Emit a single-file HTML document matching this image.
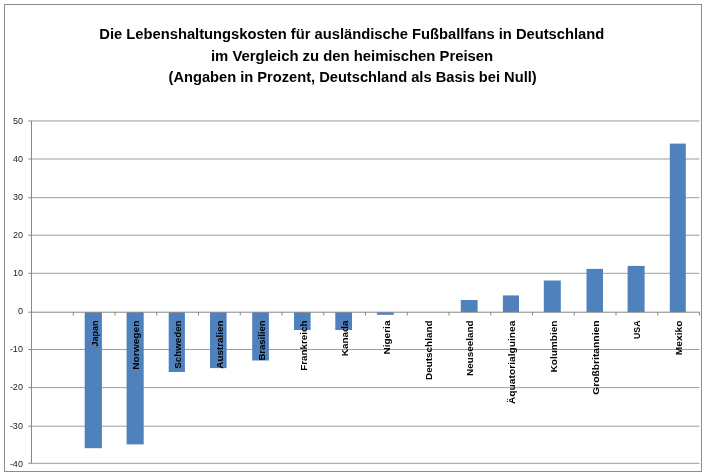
<!DOCTYPE html>
<html lang="de">
<head>
<meta charset="utf-8">
<title>Lebenshaltungskosten für ausländische Fußballfans in Deutschland</title>
<style>
html,body{margin:0;padding:0;background:#fff;}
body{width:706px;height:475px;overflow:hidden;}
svg{display:block;}
text{font-family:"Liberation Sans",sans-serif;}
.t{font-weight:bold;font-size:14px;fill:#000;text-anchor:middle;}
.n{font-size:9px;fill:#1a1a1a;text-anchor:end;}
.c{font-weight:bold;font-size:9.3px;fill:#000;text-anchor:end;}
</style>
</head>
<body>
<svg width="706" height="475" viewBox="0 0 706 475">
<rect x="0" y="0" width="706" height="475" fill="#fff"/>
<rect x="4.5" y="4.5" width="697" height="467" fill="none" stroke="#8c8c8c" stroke-width="1"/>
<text class="t" x="351.8" y="38.8" textLength="505.0" lengthAdjust="spacingAndGlyphs">Die Lebenshaltungskosten für ausländische Fußballfans in Deutschland</text>
<text class="t" x="352.1" y="60.6" textLength="282.2" lengthAdjust="spacingAndGlyphs">im Vergleich zu den heimischen Preisen</text>
<text class="t" x="352.6" y="82.4" textLength="368.2" lengthAdjust="spacingAndGlyphs">(Angaben in Prozent, Deutschland als Basis bei Null)</text>
<line x1="31.5" y1="120.95" x2="699.5" y2="120.95" stroke="#9e9e9e" stroke-width="1"/>
<line x1="31.5" y1="159.0" x2="699.5" y2="159.0" stroke="#9e9e9e" stroke-width="1"/>
<line x1="31.5" y1="197.7" x2="699.5" y2="197.7" stroke="#9e9e9e" stroke-width="1"/>
<line x1="31.5" y1="235.2" x2="699.5" y2="235.2" stroke="#9e9e9e" stroke-width="1"/>
<line x1="31.5" y1="273.3" x2="699.5" y2="273.3" stroke="#9e9e9e" stroke-width="1"/>
<line x1="31.5" y1="349.5" x2="699.5" y2="349.5" stroke="#9e9e9e" stroke-width="1"/>
<line x1="31.5" y1="387.6" x2="699.5" y2="387.6" stroke="#9e9e9e" stroke-width="1"/>
<line x1="31.5" y1="426.2" x2="699.5" y2="426.2" stroke="#9e9e9e" stroke-width="1"/>
<line x1="31.5" y1="463.3" x2="699.5" y2="463.3" stroke="#9e9e9e" stroke-width="1"/>
<rect x="84.70" y="312.20" width="17.20" height="136.00" fill="#4f81bd"/>
<rect x="126.60" y="312.20" width="17.10" height="132.20" fill="#4f81bd"/>
<rect x="168.70" y="312.20" width="16.20" height="59.80" fill="#4f81bd"/>
<rect x="210.00" y="312.20" width="16.60" height="55.90" fill="#4f81bd"/>
<rect x="252.20" y="312.20" width="16.70" height="48.30" fill="#4f81bd"/>
<rect x="294.00" y="312.20" width="16.60" height="17.80" fill="#4f81bd"/>
<rect x="335.30" y="312.20" width="16.70" height="17.80" fill="#4f81bd"/>
<rect x="376.90" y="312.20" width="16.90" height="2.60" fill="#4f81bd"/>
<rect x="460.80" y="300.00" width="16.80" height="12.20" fill="#4f81bd"/>
<rect x="502.90" y="295.40" width="16.10" height="16.80" fill="#4f81bd"/>
<rect x="543.80" y="280.50" width="17.00" height="31.70" fill="#4f81bd"/>
<rect x="586.50" y="268.90" width="16.50" height="43.30" fill="#4f81bd"/>
<rect x="627.60" y="265.90" width="17.00" height="46.30" fill="#4f81bd"/>
<rect x="669.80" y="143.60" width="16.00" height="168.60" fill="#4f81bd"/>
<line x1="31.5" y1="120.95" x2="31.5" y2="463.3" stroke="#868686" stroke-width="1"/>
<line x1="31.5" y1="312.2" x2="699.5" y2="312.2" stroke="#868686" stroke-width="1"/>
<line x1="28.3" y1="120.95" x2="31.5" y2="120.95" stroke="#868686" stroke-width="1"/>
<line x1="28.3" y1="159.0" x2="31.5" y2="159.0" stroke="#868686" stroke-width="1"/>
<line x1="28.3" y1="197.7" x2="31.5" y2="197.7" stroke="#868686" stroke-width="1"/>
<line x1="28.3" y1="235.2" x2="31.5" y2="235.2" stroke="#868686" stroke-width="1"/>
<line x1="28.3" y1="273.3" x2="31.5" y2="273.3" stroke="#868686" stroke-width="1"/>
<line x1="28.3" y1="312.2" x2="31.5" y2="312.2" stroke="#868686" stroke-width="1"/>
<line x1="28.3" y1="349.5" x2="31.5" y2="349.5" stroke="#868686" stroke-width="1"/>
<line x1="28.3" y1="387.6" x2="31.5" y2="387.6" stroke="#868686" stroke-width="1"/>
<line x1="28.3" y1="426.2" x2="31.5" y2="426.2" stroke="#868686" stroke-width="1"/>
<line x1="28.3" y1="463.3" x2="31.5" y2="463.3" stroke="#868686" stroke-width="1"/>
<line x1="73.25" y1="312.2" x2="73.25" y2="315.5" stroke="#868686" stroke-width="1"/>
<line x1="115.00" y1="312.2" x2="115.00" y2="315.5" stroke="#868686" stroke-width="1"/>
<line x1="156.75" y1="312.2" x2="156.75" y2="315.5" stroke="#868686" stroke-width="1"/>
<line x1="198.50" y1="312.2" x2="198.50" y2="315.5" stroke="#868686" stroke-width="1"/>
<line x1="240.25" y1="312.2" x2="240.25" y2="315.5" stroke="#868686" stroke-width="1"/>
<line x1="282.00" y1="312.2" x2="282.00" y2="315.5" stroke="#868686" stroke-width="1"/>
<line x1="323.75" y1="312.2" x2="323.75" y2="315.5" stroke="#868686" stroke-width="1"/>
<line x1="365.50" y1="312.2" x2="365.50" y2="315.5" stroke="#868686" stroke-width="1"/>
<line x1="407.25" y1="312.2" x2="407.25" y2="315.5" stroke="#868686" stroke-width="1"/>
<line x1="449.00" y1="312.2" x2="449.00" y2="315.5" stroke="#868686" stroke-width="1"/>
<line x1="490.75" y1="312.2" x2="490.75" y2="315.5" stroke="#868686" stroke-width="1"/>
<line x1="532.50" y1="312.2" x2="532.50" y2="315.5" stroke="#868686" stroke-width="1"/>
<line x1="574.25" y1="312.2" x2="574.25" y2="315.5" stroke="#868686" stroke-width="1"/>
<line x1="616.00" y1="312.2" x2="616.00" y2="315.5" stroke="#868686" stroke-width="1"/>
<line x1="657.75" y1="312.2" x2="657.75" y2="315.5" stroke="#868686" stroke-width="1"/>
<line x1="699.50" y1="312.2" x2="699.50" y2="315.5" stroke="#868686" stroke-width="1"/>
<text class="n" x="22.9" y="124.10">50</text>
<text class="n" x="22.9" y="162.15">40</text>
<text class="n" x="22.9" y="200.20">30</text>
<text class="n" x="22.9" y="238.25">20</text>
<text class="n" x="22.9" y="276.30">10</text>
<text class="n" x="22.9" y="314.35">0</text>
<text class="n" x="22.9" y="352.40">-10</text>
<text class="n" x="22.9" y="390.45">-20</text>
<text class="n" x="22.9" y="428.50">-30</text>
<text class="n" x="22.9" y="466.55">-40</text>
<text class="c" transform="translate(97.72,320.5) rotate(-90)" x="0" y="0" textLength="26.1" lengthAdjust="spacingAndGlyphs">Japan</text>
<text class="c" transform="translate(139.47,320.5) rotate(-90)" x="0" y="0" textLength="49.3" lengthAdjust="spacingAndGlyphs">Norwegen</text>
<text class="c" transform="translate(181.22,320.5) rotate(-90)" x="0" y="0" textLength="48.2" lengthAdjust="spacingAndGlyphs">Schweden</text>
<text class="c" transform="translate(222.97,320.5) rotate(-90)" x="0" y="0" textLength="48.2" lengthAdjust="spacingAndGlyphs">Australien</text>
<text class="c" transform="translate(264.73,320.5) rotate(-90)" x="0" y="0" textLength="40.0" lengthAdjust="spacingAndGlyphs">Brasilien</text>
<text class="c" transform="translate(307.08,320.5) rotate(-90)" x="0" y="0" textLength="50.3" lengthAdjust="spacingAndGlyphs">Frankreich</text>
<text class="c" transform="translate(348.23,320.5) rotate(-90)" x="0" y="0" textLength="35.7" lengthAdjust="spacingAndGlyphs">Kanada</text>
<text class="c" transform="translate(389.98,320.5) rotate(-90)" x="0" y="0" textLength="34.1" lengthAdjust="spacingAndGlyphs">Nigeria</text>
<text class="c" transform="translate(431.73,320.5) rotate(-90)" x="0" y="0" textLength="59.4" lengthAdjust="spacingAndGlyphs">Deutschland</text>
<text class="c" transform="translate(473.48,320.5) rotate(-90)" x="0" y="0" textLength="55.4" lengthAdjust="spacingAndGlyphs">Neuseeland</text>
<text class="c" transform="translate(515.23,320.5) rotate(-90)" x="0" y="0" textLength="83.6" lengthAdjust="spacingAndGlyphs">Äquatorialguinea</text>
<text class="c" transform="translate(556.98,320.5) rotate(-90)" x="0" y="0" textLength="52.0" lengthAdjust="spacingAndGlyphs">Kolumbien</text>
<text class="c" transform="translate(598.73,320.5) rotate(-90)" x="0" y="0" textLength="74.3" lengthAdjust="spacingAndGlyphs">Großbritannien</text>
<text class="c" transform="translate(640.48,320.5) rotate(-90)" x="0" y="0" textLength="18.5" lengthAdjust="spacingAndGlyphs">USA</text>
<text class="c" transform="translate(682.23,320.5) rotate(-90)" x="0" y="0" textLength="34.8" lengthAdjust="spacingAndGlyphs">Mexiko</text>
</svg>
</body>
</html>
